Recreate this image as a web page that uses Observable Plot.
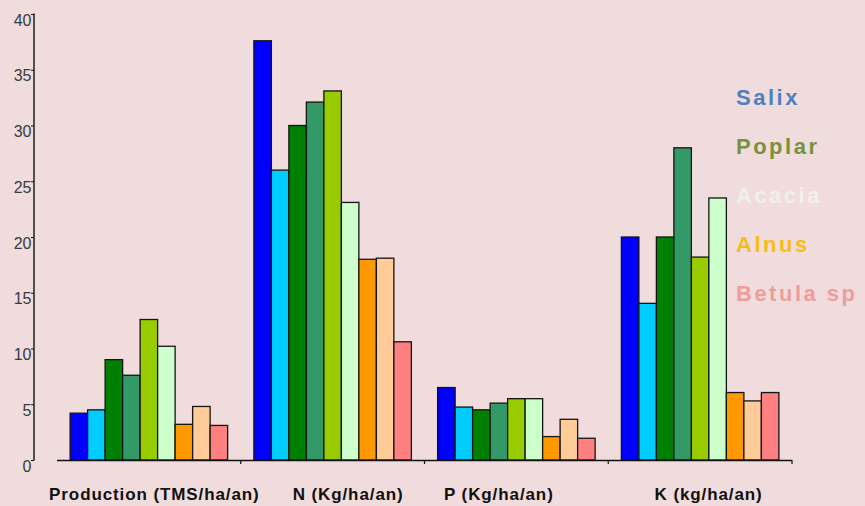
<!DOCTYPE html>
<html>
<head>
<meta charset="utf-8">
<script src="https://cdn.jsdelivr.net/npm/d3@7"></script>
<script src="https://cdn.jsdelivr.net/npm/@observablehq/plot@0.6"></script>
<style>
  html, body { margin: 0; padding: 0; background: #f0dcdc; }
  #chart { width: 865px; height: 506px; overflow: hidden; }
  #chart svg { display: block; }
  g[aria-label="fx-axis tick label"] text { letter-spacing: 0.9px; }
</style>
</head>
<body>
<div id="chart"></div>
<script>
// Nutrient export by species group (yearly, per hectare)
const categories = ["Production (TMS/ha/an)", "N (Kg/ha/an)", "P (Kg/ha/an)", "K (kg/ha/an)"];
const series = ["Salix A", "Salix B", "Poplar A", "Poplar B", "Poplar C", "Acacia", "Alnus A", "Alnus B", "Betula sp"];
const production = [4.2, 4.5, 9.0, 7.6, 12.6, 10.2, 3.2, 4.8, 3.1];
const nitrogen   = [37.6, 26.0, 30.0, 32.1, 33.1, 23.1, 18.0, 18.1, 10.6];
const phosphorus = [6.5, 4.75, 4.5, 5.1, 5.5, 5.5, 2.1, 3.65, 1.95];
const potassium  = [20.0, 14.05, 20.0, 28.0, 18.2, 23.5, 6.05, 5.3, 6.05];
const seriesColors = ["#0000ff", "#00ccff", "#008000", "#339966", "#99cc00", "#ccffcc", "#ff9900", "#ffcc99", "#ff8080"];
const yTicks = [0, 5, 10, 15, 20, 25, 30, 35, 40];
const legendLabels = ["Salix", "Poplar", "Acacia", "Alnus", "Betula sp"];
const legendColors = ["#4f7fbf", "#76923c", "#f2f1e8", "#f5bd18", "#ef9c9c"];

const columns = [production, nitrogen, phosphorus, potassium];
const rows = categories.flatMap((category, i) =>
  series.map((s, j) => ({category, series: s, value: columns[i][j]}))
);

// small horizontal nudges of the group captions
const captionShift = [5, 15, -18, 8];

const chart = Plot.plot({
  width: 865,
  height: 506,
  marginLeft: 57,
  marginRight: 73,
  marginTop: 14,
  marginBottom: 46,
  style: {background: "transparent", fontFamily: "'Liberation Sans', Arial, sans-serif", overflow: "visible"},
  fx: {domain: categories, padding: 0, round: false, label: null},
  x: {domain: series, paddingInner: 0, paddingOuter: 0.75, round: false, axis: null},
  y: {domain: [0, 40], axis: null},
  color: {domain: series, range: seriesColors},
  marks: [
    Plot.barY(rows, {fx: "category", x: "series", y: "value", fill: "series", stroke: "#141414", strokeWidth: 1.3}),
    Plot.ruleY([0], {stroke: "#111", strokeWidth: 1.4}),
    Plot.axisY({anchor: "left", ticks: yTicks, tickSize: 3, tickFormat: () => "", dx: -23, stroke: "#111", label: null}),
    Plot.axisY({anchor: "left", ticks: yTicks, tickSize: 0, tickPadding: 3, dx: -23, dy: 6, fontSize: 16, fill: "#3a3a3a", label: null}),
    ...categories.map((c, i) => Plot.axisFx({
      ticks: [c], anchor: "bottom", tickSize: 0, tickPadding: 27, dx: captionShift[i],
      fontSize: 17, fontWeight: "bold", fill: "#111", label: null
    }))
  ]
});

document.getElementById("chart").append(chart);

// axis line on the left, and group boundary ticks under the baseline
const svg = d3.select(chart);
const y = chart.scale("y");
const fx = chart.scale("fx");
const y0 = y.apply(0), yTop = y.apply(40);
svg.append("line")
  .attr("x1", 34).attr("x2", 34)
  .attr("y1", yTop - 0.5).attr("y2", y0 + 0.5)
  .attr("stroke", "#111").attr("stroke-width", 1.4);
svg.append("g").selectAll("line")
  .data(categories)
  .join("line")
  .attr("x1", d => fx.apply(d) + fx.bandwidth)
  .attr("x2", d => fx.apply(d) + fx.bandwidth)
  .attr("y1", y0).attr("y2", y0 + 4)
  .attr("stroke", "#111").attr("stroke-width", 1.2);

// text legend at the right
svg.append("g")
  .attr("font-family", "'Liberation Sans', Arial, sans-serif")
  .attr("font-weight", "bold")
  .attr("font-size", 22)
  .attr("letter-spacing", "2.5px")
  .attr("text-anchor", "start")
  .selectAll("text")
  .data(legendLabels)
  .join("text")
  .attr("x", 736)
  .attr("y", (d, i) => 104.5 + i * 49)
  .attr("fill", (d, i) => legendColors[i])
  .text(d => d);
</script>
</body>
</html>
